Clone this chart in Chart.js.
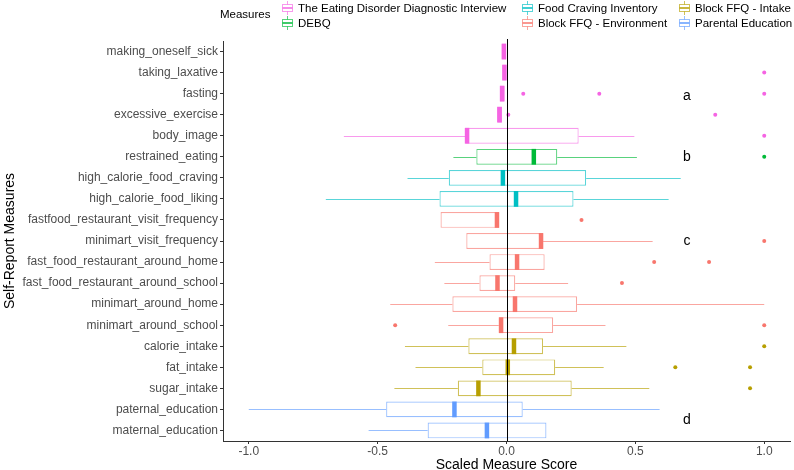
<!DOCTYPE html>
<html>
<head>
<meta charset="utf-8">
<script src="https://cdn.jsdelivr.net/npm/chart.js@4.4.1/dist/chart.umd.min.js"></script>
<style>
    body { margin: 0; background: #fff; font-family: "Liberation Sans", Arial, sans-serif; }
    #wrap { position: relative; width: 794px; height: 470px; }
    #boxChart { position: absolute; left: 0; top: 0; }
    .legend-title { position: absolute; left: 220px; top: 8px; font-size: 11.5px; color: #000; }
    .legend-item { position: absolute; font-size: 11.5px; color: #000; white-space: nowrap; line-height: 14px; }
    .legend-item svg { position: absolute; left: -17px; top: 0; }
</style>
</head>
<body>
<div id="wrap">
    <canvas id="boxChart" width="794" height="470"></canvas>
    <div id="legend"></div>
</div>
<script>
// measures (top to bottom)
const measures = [
    'making_oneself_sick', 'taking_laxative', 'fasting', 'excessive_exercise', 'body_image',
    'restrained_eating', 'high_calorie_food_craving', 'high_calorie_food_liking',
    'fastfood_restaurant_visit_frequency', 'minimart_visit_frequency',
    'fast_food_restaurant_around_home', 'fast_food_restaurant_around_school',
    'minimart_around_home', 'minimart_around_school', 'calorie_intake', 'fat_intake',
    'sugar_intake', 'paternal_education', 'maternal_education'
];
const groups = ['The Eating Disorder Diagnostic Interview', 'DEBQ', 'Food Craving Inventory',
    'Block FFQ - Environment', 'Block FFQ - Intake', 'Parental Education'];
const groupColors = ['#F564E3', '#00BA38', '#00BFC4', '#F8766D', '#B79F00', '#619CFF'];
const groupOf = [0, 0, 0, 0, 0, 1, 2, 2, 3, 3, 3, 3, 3, 3, 4, 4, 4, 5, 5];

// box stats
const lowWhisker  = [-0.019, -0.016, -0.026, -0.037, -0.631, -0.206, -0.384, -0.701, -0.256, -0.156, -0.278, -0.241, -0.451, -0.226, -0.394, -0.353, -0.435, -1.0, -0.535];
const q1          = [-0.019, -0.016, -0.026, -0.037, -0.160, -0.117, -0.224, -0.260, -0.256, -0.156, -0.066, -0.105, -0.210, -0.030, -0.148, -0.094, -0.189, -0.467, -0.306];
const median      = [-0.010, -0.008, -0.017, -0.027, -0.153, 0.106, -0.014, 0.037, -0.037, 0.134, 0.041, -0.035, 0.033, -0.021, 0.029, 0.005, -0.109, -0.202, -0.076];
const q3          = [-0.001, -0.001, -0.007, -0.017, 0.280, 0.197, 0.309, 0.260, -0.029, 0.142, 0.148, 0.034, 0.274, 0.181, 0.142, 0.189, 0.253, 0.063, 0.155];
const highWhisker = [-0.001, -0.001, -0.007, -0.017, 0.496, 0.506, 0.676, 0.629, -0.029, 0.567, 0.148, 0.239, 1.0, 0.384, 0.465, 0.377, 0.554, 0.594, 0.155];
const outliers = [
    [], [1.0], [0.065, 0.36, 1.0], [0.007, 0.81], [1.0], [1.0], [], [], [0.291], [1.0],
    [0.573, 0.786], [0.448], [], [-0.432, 1.0], [1.0], [0.655, 0.945], [0.945], [], []
];

const xTicks = [-1.0, -0.5, 0.0, 0.5, 1.0];

// panel letters
const noteText = ['a', 'b', 'c', 'd'];
const noteX = [0.7, 0.7, 0.7, 0.7];
const noteRow = [2.1, 5, 9, 17.5];

function withAlpha(hex, a) {
    const n = parseInt(hex.slice(1), 16);
    return 'rgba(' + (n >> 16) + ',' + ((n >> 8) & 255) + ',' + (n & 255) + ',' + a + ')';
}

const lineColors = groupOf.map(g => withAlpha(groupColors[g], 0.65));

// flatten outliers into points (y by label so the category scale finds the row)
const outlierPoints = [];
const outlierColors = [];
outliers.forEach((list, i) => {
    list.forEach(v => {
        outlierPoints.push({ x: v, y: measures[i] });
        outlierColors.push(groupColors[groupOf[i]]);
    });
});

// whiskers under the boxes, medians + zero line + letters on top
const boxParts = {
    id: 'boxParts',
    beforeDatasetsDraw(chart) {
        const { ctx, scales: { x, y } } = chart;
        ctx.save();
        ctx.lineWidth = 1.1;
        measures.forEach((m, i) => {
            const yc = Math.round(y.getPixelForValue(i)) + 0.5;
            ctx.strokeStyle = lineColors[i];
            ctx.beginPath();
            ctx.moveTo(x.getPixelForValue(lowWhisker[i]), yc);
            ctx.lineTo(x.getPixelForValue(q1[i]), yc);
            ctx.moveTo(x.getPixelForValue(q3[i]), yc);
            ctx.lineTo(x.getPixelForValue(highWhisker[i]), yc);
            ctx.stroke();
        });
        ctx.restore();
    },
    afterDatasetsDraw(chart) {
        const { ctx, chartArea, scales: { x, y } } = chart;
        const bar = chart.getDatasetMeta(0).data;
        ctx.save();
        ctx.lineWidth = 4.5;
        measures.forEach((m, i) => {
            const h = bar[i].height;
            const yc = y.getPixelForValue(i);
            const xm = x.getPixelForValue(median[i]);
            ctx.strokeStyle = groupColors[groupOf[i]];
            ctx.beginPath();
            ctx.moveTo(xm, yc - h / 2);
            ctx.lineTo(xm, yc + h / 2);
            ctx.stroke();
        });
        const x0 = Math.round(x.getPixelForValue(0)) + 0.5;
        ctx.strokeStyle = '#000';
        ctx.lineWidth = 1;
        ctx.beginPath();
        ctx.moveTo(x0, chartArea.top - 2);
        ctx.lineTo(x0, chartArea.bottom);
        ctx.stroke();

        ctx.fillStyle = '#000';
        ctx.font = '14px "Liberation Sans", Arial, sans-serif';
        ctx.textAlign = 'center';
        ctx.textBaseline = 'middle';
        noteText.forEach((t, k) => {
            ctx.fillText(t, x.getPixelForValue(noteX[k]), y.getPixelForValue(noteRow[k]));
        });
        ctx.restore();
    }
};

Chart.defaults.font.family = '"Liberation Sans", Arial, sans-serif';

new Chart(document.getElementById('boxChart'), {
    type: 'bar',
    data: {
        labels: measures,
        datasets: [{
            type: 'bar',
            label: 'box',
            indexAxis: 'y',
            data: measures.map((m, i) => [q1[i], q3[i]]),
            backgroundColor: '#ffffff',
            borderColor: lineColors,
            borderWidth: 1.2,
            borderSkipped: false,
            barPercentage: 0.75,
            categoryPercentage: 1
        }, {
            type: 'scatter',
            label: 'outliers',
            indexAxis: 'x',
            data: outlierPoints,
            pointRadius: 2,
            pointBorderWidth: 0,
            pointBackgroundColor: outlierColors,
            pointBorderColor: outlierColors
        }]
    },
    options: {
        indexAxis: 'y',
        responsive: false,
        animation: false,
        layout: { padding: { top: 41, right: 2, bottom: 0, left: 0 } },
        plugins: {
            legend: { display: false },
            tooltip: { enabled: false }
        },
        scales: {
            x: {
                type: 'linear',
                min: -1.1,
                max: 1.1,
                afterBuildTicks: s => { s.ticks = xTicks.map(v => ({ value: v })); },
                ticks: {
                    callback: v => Number(v).toFixed(1),
                    color: '#4D4D4D',
                    font: { size: 12 },
                    padding: 0,
                    maxRotation: 0
                },
                grid: { drawOnChartArea: false, drawTicks: true, tickLength: 3, color: '#333' },
                border: { display: true, color: '#333', width: 1 },
                title: {
                    display: true,
                    text: 'Scaled Measure Score',
                    color: '#000',
                    font: { size: 14, lineHeight: 1 },
                    padding: { top: 0, bottom: -2 }
                },
                afterFit: s => { s.height = 29; }
            },
            y: {
                type: 'category',
                labels: measures,
                offset: true,
                ticks: { color: '#4D4D4D', font: { size: 12 }, padding: 2, autoSkip: false },
                grid: { drawOnChartArea: false, drawTicks: true, tickLength: 3, color: '#333', offset: false },
                border: { display: true, color: '#333', width: 1 },
                title: {
                    display: true,
                    text: 'Self-Report Measures',
                    color: '#000',
                    font: { size: 14, lineHeight: 1 },
                    padding: { top: 3, bottom: 0 }
                },
                afterFit: s => { s.width = 223; }
            }
        }
    },
    plugins: [boxParts]
});

// legend: column-major, two rows
const legendPos = [
    { left: 298, top: 1 }, { left: 298, top: 16 },
    { left: 538, top: 1 }, { left: 538, top: 16 },
    { left: 695, top: 1 }, { left: 695, top: 16 }
];
const legendEl = document.getElementById('legend');
legendEl.innerHTML = '<div class="legend-title">Measures</div>' + groups.map((g, k) => {
    const c = groupColors[k];
    const lc = withAlpha(c, 0.65);
    return '<div class="legend-item" style="left:' + legendPos[k].left + 'px;top:' + legendPos[k].top + 'px">' +
        '<svg width="13" height="14"><line x1="6.5" y1="0" x2="6.5" y2="14" stroke="' + lc + '"/>' +
        '<rect x="1.5" y="3.5" width="10" height="7" fill="#fff" stroke="' + lc + '"/>' +
        '<line x1="1.5" y1="7" x2="11.5" y2="7" stroke="' + c + '" stroke-width="1.5"/></svg>' +
        g + '</div>';
}).join('');
</script>
</body>
</html>
